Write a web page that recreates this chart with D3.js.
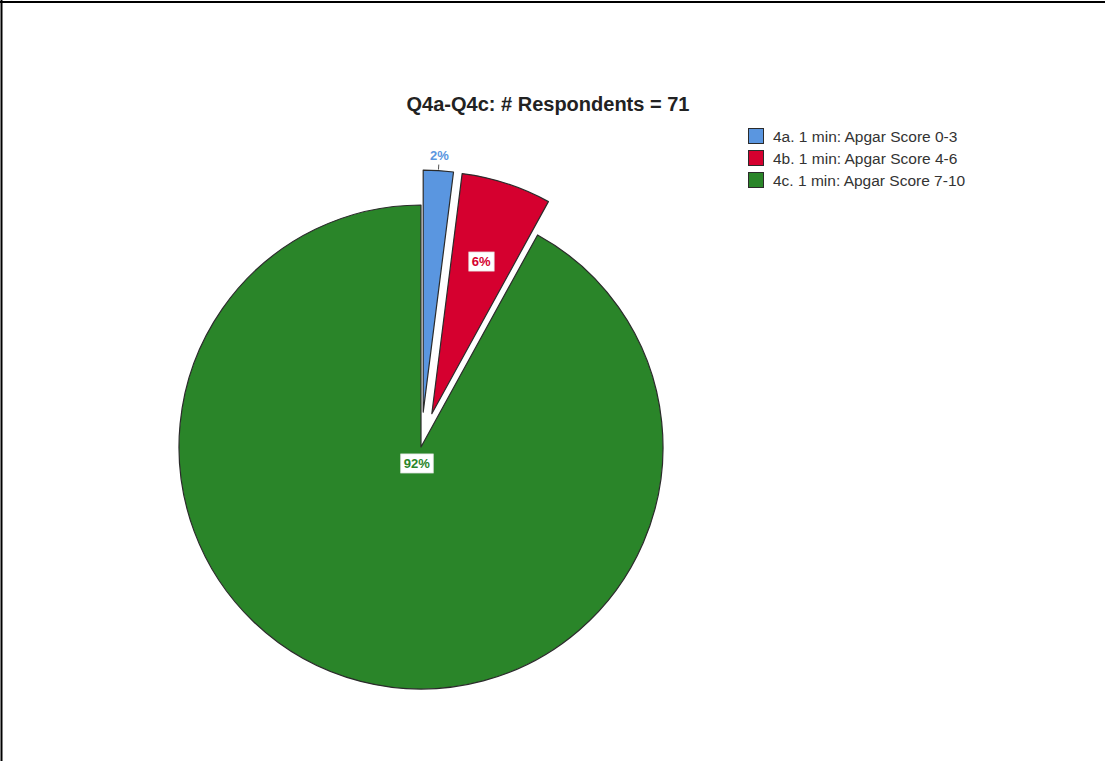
<!DOCTYPE html>
<html><head><meta charset="utf-8">
<script src="https://cdn.jsdelivr.net/npm/d3@7"></script>
<style>
html,body{margin:0;padding:0;background:#fff;}
svg{display:block;font-family:"Liberation Sans",Arial,sans-serif;}
</style></head>
<body>
<svg id="chart" width="1105" height="761"></svg>
<script>
const categories = ["4a. 1 min: Apgar Score 0-3", "4b. 1 min: Apgar Score 4-6", "4c. 1 min: Apgar Score 7-10"];
const values = [2, 6, 92];
const labels = ["2%", "6%", "92%"];
const colors = ["#5a96e0", "#d5002f", "#2a8529"];
const exploded = [true, true, false];
const title = "Q4a-Q4c: # Respondents = 71";

const svg = d3.select("#chart");
// frame
svg.append("line").attr("x1",0).attr("x2",1105).attr("y1",2).attr("y2",2).attr("stroke","#000").attr("stroke-width",2);
svg.append("line").attr("x1",1.5).attr("x2",1.5).attr("y1",0).attr("y2",761).attr("stroke","#000").attr("stroke-width",2);

svg.append("text").attr("x",548).attr("y",111).attr("text-anchor","middle")
  .attr("font-size",20).attr("font-weight","bold").attr("fill","#222").text(title);

const cx = 421, cy = 447, R = 242, explode = 35;
const pie = d3.pie().sort(null).value(d=>d).startAngle(0).endAngle(2*Math.PI);
const arcs = pie(values);
const arc = d3.arc().innerRadius(0).outerRadius(R);
const g = svg.append("g").attr("transform",`translate(${cx},${cy})`);

function offset(d,i){
  if(!exploded[i]) return [0,0];
  const m = (d.startAngle+d.endAngle)/2;
  return [explode*Math.sin(m), -explode*Math.cos(m)];
}

arcs.forEach((d,i)=>{
  const [ox,oy] = offset(d,i);
  g.append("path").attr("d",arc(d)).attr("transform",`translate(${ox},${oy})`)
    .attr("fill",colors[i]).attr("stroke","#2b2b2b").attr("stroke-width",1.2).attr("stroke-linejoin","round");
});

// labels
arcs.forEach((d,i)=>{
  const [ox,oy] = offset(d,i);
  const m = (d.startAngle+d.endAngle)/2;
  let r, boxed = true;
  if(i===0){ r = R+15; boxed = false; }
  else if(i===1){ r = 160; }
  else { r = 17; }
  const lx = ox + r*Math.sin(m), ly = oy - r*Math.cos(m);
  const lg = g.append("g").attr("transform",`translate(${lx},${ly})`);
  const t = lg.append("text").attr("text-anchor","middle").attr("dominant-baseline","central")
    .attr("font-size",13).attr("font-weight","bold").attr("fill",colors[i]).text(labels[i]);
  if(boxed){
    const bb = t.node().getBBox();
    lg.insert("rect","text").attr("x",bb.x-3).attr("y",bb.y-2).attr("width",bb.width+6).attr("height",bb.height+4)
      .attr("fill","#fff").attr("stroke","#e8e8e8").attr("stroke-width",0.8);
  } else {
    const r0 = R+1, r1 = R+6;
    g.append("line")
      .attr("x1", ox + r0*Math.sin(m)).attr("y1", oy - r0*Math.cos(m))
      .attr("x2", ox + r1*Math.sin(m)).attr("y2", oy - r1*Math.cos(m))
      .attr("stroke","#555").attr("stroke-width",1);
  }
});

// legend
const lgd = svg.append("g").attr("transform","translate(748,128)");
categories.forEach((c,i)=>{
  const row = lgd.append("g").attr("transform",`translate(0,${i*22})`);
  row.append("rect").attr("x",0.5).attr("y",0.5).attr("width",15).attr("height",15)
    .attr("fill",colors[i]).attr("stroke","#2b2b2b").attr("stroke-width",1);
  row.append("text").attr("x",25).attr("y",8).attr("dominant-baseline","central")
    .attr("font-size",15.5).attr("fill","#333").text(c);
});
</script>
</body></html>
